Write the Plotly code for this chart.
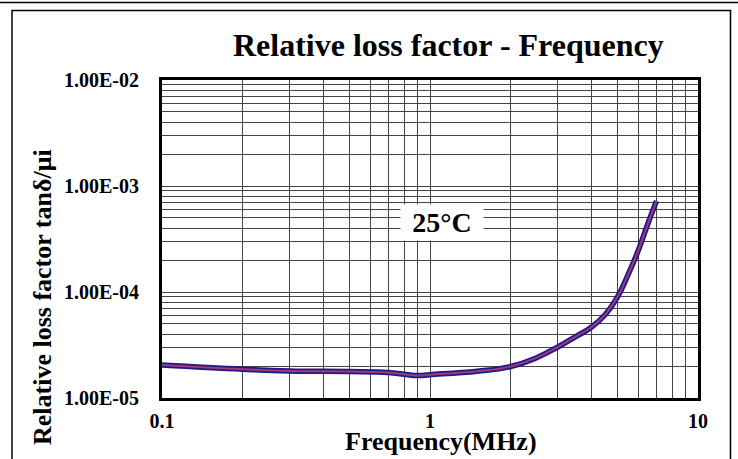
import plotly.graph_objects as go

# Data
freq_mhz = [0.1, 0.2, 0.3, 0.5, 0.7, 0.9, 1.0, 1.5, 2.0, 2.5, 3.0, 3.5, 4.0, 4.5, 5.0, 5.5, 6.0, 6.5, 7.0]
loss_factor = [2.05e-5, 1.87e-5, 1.80e-5, 1.78e-5, 1.74e-5, 1.63e-5, 1.66e-5, 1.79e-5, 1.98e-5,
               2.40e-5, 3.03e-5, 3.80e-5, 4.65e-5, 6.10e-5, 8.90e-5, 1.48e-4, 2.50e-4, 4.40e-4, 7.20e-4]

x_decades = [0.1, 1, 10]
x_tick_labels = ["0.1", "1", "10"]
y_decades = [1e-5, 1e-4, 1e-3, 1e-2]
y_tick_labels = ["1.00E-05", "1.00E-04", "1.00E-03", "1.00E-02"]

title_text = "Relative loss factor - Frequency"
x_title = "Frequency(MHz)"
y_title = "Relative loss factor tanδ/μi"
temp_label = "25°C"

FONT = "Liberation Serif, Times New Roman, serif"
W, H = 738, 459
L, R, T, B = 162, 698, 80, 398


def px_x(px):
    return (px - L) / (R - L)


def px_y(py):
    return (B - py) / (B - T)


def log_grid(decades):
    vals = []
    for d in decades:
        for m in range(1, 10):
            v = d * m
            if v > decades[-1] * 1.0001:
                break
            vals.append(v)
    return vals


def labels_for(vals, decades, labels):
    out = []
    for v in vals:
        match = [lab for d, lab in zip(decades, labels) if abs(v / d - 1) < 1e-6]
        out.append(match[0] if match else "")
    return out


x_vals = log_grid(x_decades)
x_txt = labels_for(x_vals, x_decades, x_tick_labels)
y_vals = log_grid(y_decades)
y_txt = labels_for(y_vals, y_decades, y_tick_labels)

fig = go.Figure()
fig.add_trace(go.Scatter(x=freq_mhz, y=loss_factor, mode="lines",
                         line=dict(color="#1a1a8c", width=5.5, shape="spline", smoothing=1.3),
                         hoverinfo="skip", showlegend=False))
fig.add_trace(go.Scatter(x=freq_mhz, y=loss_factor, mode="lines",
                         line=dict(color="#a33878", width=2, shape="spline", smoothing=1.3),
                         showlegend=False))

fig.update_xaxes(type="log", range=[-1, 1], tickvals=x_vals, ticktext=x_txt,
                 showgrid=True, gridcolor="#444444", gridwidth=1,
                 showline=True, linecolor="black", linewidth=3, mirror=True,
                 ticks="", ticklabelstandoff=3, zeroline=False,
                 tickfont=dict(family=FONT, size=20, color="black", weight="bold"))
fig.update_yaxes(type="log", range=[-5, -2], tickvals=y_vals, ticktext=y_txt,
                 showgrid=True, gridcolor="#444444", gridwidth=1,
                 showline=True, linecolor="black", linewidth=3, mirror=True,
                 ticks="", ticklabelstandoff=16, zeroline=False,
                 tickfont=dict(family=FONT, size=20, color="black", weight="bold"))

shapes = [
    dict(type="line", xref="paper", yref="paper", x0=px_x(0), x1=px_x(W), y0=px_y(2.5), y1=px_y(2.5),
         line=dict(color="black", width=1.5)),
    dict(type="rect", xref="paper", yref="paper", x0=px_x(12), x1=px_x(730.5), y0=px_y(470), y1=px_y(10.5),
         line=dict(color="black", width=1.5)),
]

annotations = [
    dict(text=f"<b>{title_text}</b>", xref="paper", yref="paper", x=px_x(448), y=px_y(45),
         xanchor="center", yanchor="middle", showarrow=False,
         font=dict(family=FONT, size=32, color="black")),
    dict(text=f"<b>{x_title}</b>", xref="paper", yref="paper", x=px_x(441), y=px_y(441),
         xanchor="center", yanchor="middle", showarrow=False,
         font=dict(family=FONT, size=26, color="black")),
    dict(text=f"<b>{y_title}</b>", xref="paper", yref="paper", x=px_x(42), y=px_y(297),
         xanchor="center", yanchor="middle", showarrow=False, textangle=-90,
         font=dict(family=FONT, size=26, color="black")),
    dict(text=f"<b>{temp_label}</b>", xref="paper", yref="paper", x=px_x(442), y=px_y(222.5),
         xanchor="center", yanchor="middle", showarrow=False, bgcolor="white",
         width=80, height=33, borderpad=1,
         font=dict(family=FONT, size=28, color="black")),
]

fig.update_layout(width=W, height=H, margin=dict(l=L, r=W - R, t=T, b=H - B),
                  paper_bgcolor="white", plot_bgcolor="white",
                  shapes=shapes, annotations=annotations, showlegend=False)

fig.write_html("out.html")
